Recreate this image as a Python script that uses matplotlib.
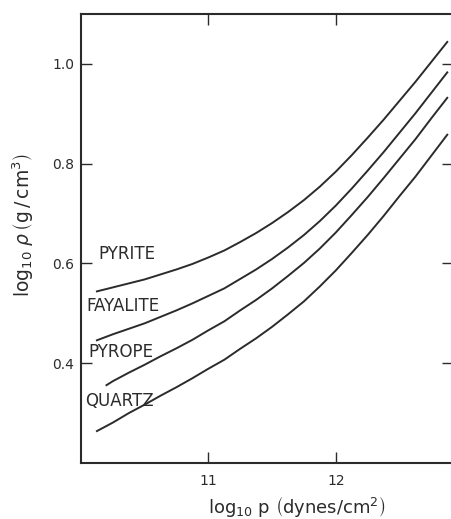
import matplotlib
matplotlib.use("Agg")
import matplotlib.pyplot as plt

# values (log10 p in dynes/cm^2, log10 rho in g/cm^3)
logp = [10.125, 10.25, 10.375, 10.5, 10.625, 10.75, 10.875, 11.0, 11.125, 11.25, 11.375, 11.5,
        11.625, 11.75, 11.875, 12.0, 12.125, 12.25, 12.375, 12.5, 12.625, 12.75, 12.875]
pyrite = [0.544, 0.552, 0.560, 0.568, 0.578, 0.588, 0.599, 0.612, 0.626, 0.643, 0.661, 0.681,
          0.703, 0.727, 0.754, 0.784, 0.817, 0.852, 0.888, 0.926, 0.964, 1.004, 1.044]
fayalite = [0.446, 0.458, 0.469, 0.480, 0.493, 0.506, 0.520, 0.535, 0.550, 0.569, 0.588, 0.609,
            0.632, 0.657, 0.685, 0.716, 0.750, 0.786, 0.823, 0.862, 0.901, 0.942, 0.983]
logp_pyrope = [10.2] + logp[1:]
pyrope = [0.356, 0.364, 0.381, 0.397, 0.414, 0.430, 0.447, 0.466, 0.484, 0.506, 0.527, 0.550,
          0.575, 0.601, 0.630, 0.662, 0.697, 0.733, 0.771, 0.810, 0.849, 0.891, 0.932]
quartz = [0.264, 0.281, 0.300, 0.317, 0.335, 0.352, 0.370, 0.389, 0.407, 0.429, 0.450, 0.473,
          0.498, 0.524, 0.554, 0.586, 0.621, 0.657, 0.695, 0.735, 0.774, 0.816, 0.858]

labels = ["PYRITE", "FAYALITE", "PYROPE", "QUARTZ"]
label_pos = [(10.14, 0.618), (10.04, 0.514), (10.06, 0.422), (10.03, 0.324)]

col = "#2b2b2b"

fig = plt.figure(figsize=(4.52, 5.19), dpi=100)
ax = fig.add_axes([81 / 452, 56 / 519, 372 / 452, 449 / 519])

ax.plot(logp, pyrite, color=col, lw=1.4)
ax.plot(logp, fayalite, color=col, lw=1.4)
ax.plot(logp_pyrope, pyrope, color=col, lw=1.4)
ax.plot(logp, quartz, color=col, lw=1.4)

for txt, (x, y) in zip(labels, label_pos):
    ax.text(x, y, txt, fontsize=12, color=col, va="center", ha="left")

ax.set_xlim(10.0, 12.92)
ax.set_ylim(0.2, 1.1)
ax.set_xticks([11, 12])
ax.set_yticks([0.4, 0.6, 0.8, 1.0])
ax.set_yticklabels(["0.4", "0.6", "0.8", "1.0"])
ax.tick_params(direction="in", length=8, width=1.0, color=col, labelcolor=col,
               labelsize=10, top=True, right=True)
ax.tick_params(axis="y", pad=5)
ax.tick_params(axis="x", pad=8)
for s in ax.spines.values():
    s.set_linewidth(1.5)
    s.set_color(col)

ax.set_xlabel(r"log$_{10}$ p $\left(\mathrm{dynes/cm^2}\right)$", fontsize=13, color=col)
ax.set_ylabel(r"log$_{10}$ $\rho\,\left(\mathrm{g\,/\,cm^3}\right)$", fontsize=13.5, color=col)
ax.xaxis.set_label_coords(0.58, -0.07)
ax.yaxis.set_label_coords(-0.122, 0.53)

fig.savefig("out.png", dpi=100)
